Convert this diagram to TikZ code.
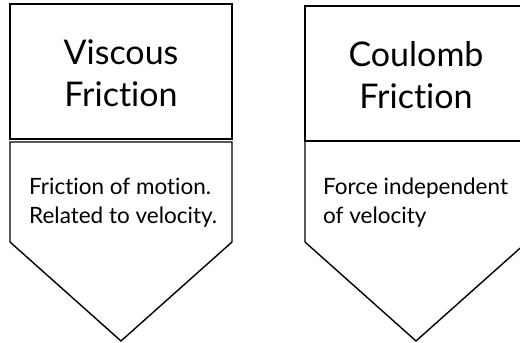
\documentclass[tikz,border=0pt]{standalone}
\usepackage{fontspec}
\setmainfont{Lato}[Ligatures={NoCommon}]
\begin{document}
\begin{tikzpicture}[x=1pt,y=-1pt,
  shapeline/.style={draw=black,line width=1.4pt,line join=miter},
  titletext/.style={font=\fontsize{34}{42}\selectfont,align=center,inner sep=0pt},
  bodytext/.style={font=\fontsize{22.5}{29}\selectfont,align=left,anchor=north west,inner sep=0pt}]
\useasboundingbox (0,0) rectangle (520,343);
% left
\draw[shapeline] (10,4) rectangle (232,139);
\draw[shapeline] (10,142) -- (232,142) -- (232,242) -- (121,341) -- (10,242) -- cycle;
\node[titletext] (t1) at (121,73) {Viscous\\Friction};
\node[bodytext] (b1) at (29,178) {Friction of motion.\\Related to velocity.};
% right
\draw[shapeline] (305,6) rectangle (527,141);
\draw[shapeline] (305,141) -- (527,141) -- (527,242) -- (416,341) -- (305,242) -- cycle;
\node[titletext] (t2) at (416,75) {Coulomb\\Friction};
\node[bodytext] (b2) at (323,178) {Force independent\\of velocity};
\end{tikzpicture}
\end{document}
